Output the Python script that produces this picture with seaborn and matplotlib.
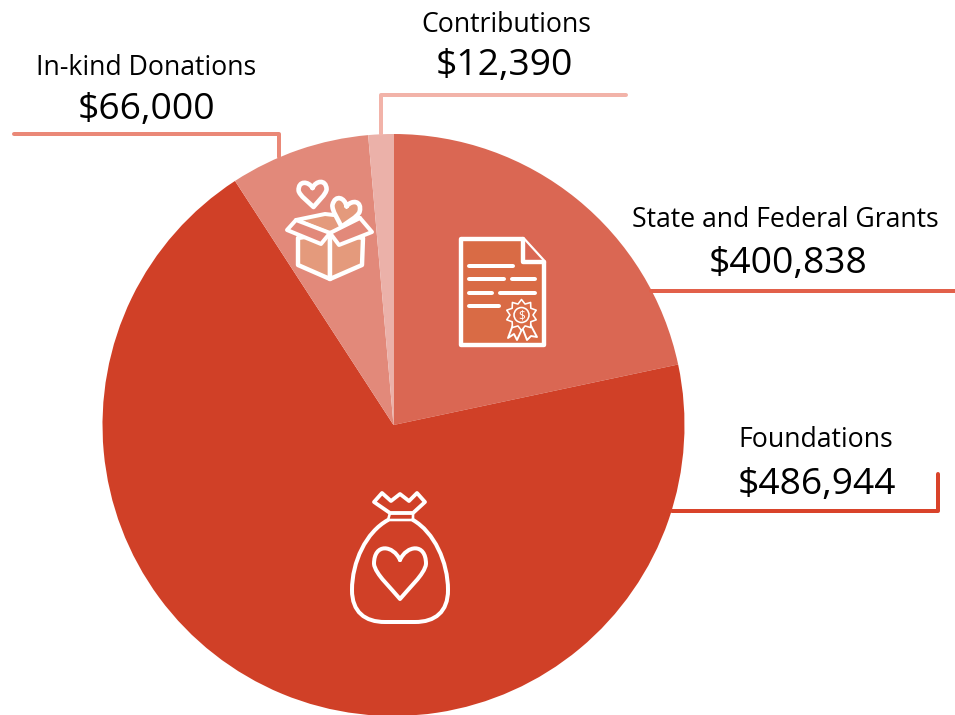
import matplotlib
matplotlib.use("Agg")
import numpy as np
import matplotlib.pyplot as plt
from matplotlib.path import Path
from matplotlib.patches import PathPatch, Circle, Polygon
import seaborn as sns

categories = ["State and Federal Grants", "Foundations", "In-kind Donations", "Contributions"]
amounts = [400838, 486944, 66000, 12390]
# Slice sizes as drawn in the picture (degrees of sweep); they are not proportional to the amounts.
slice_sweeps = [78, 249, 28, 5]
slice_colors = ["#DA6753", "#D04027", "#E2897A", "#EBB1A9"]

sns.set_theme(style="white")
plt.rcParams["font.family"] = ["Open Sans", "DejaVu Sans"]

fig = plt.figure(figsize=(9.55, 7.15), dpi=100)
ax = fig.add_axes([0, 0, 1, 1])
ax.pie(slice_sweeps, colors=sns.color_palette(slice_colors), center=(393.5, 425), radius=291,
       startangle=-90, counterclock=True, wedgeprops={"linewidth": 0})
ax.set_xlim(0, 955)
ax.set_ylim(715, 0)
ax.set_aspect("equal")
ax.axis("off")

PX = 0.72
TXT = "#000000"

def leader(pts, color):
    xs, ys = zip(*pts)
    ax.plot(xs, ys, color=color, lw=4 * PX, solid_capstyle="round", solid_joinstyle="round", zorder=3)

leader([(651, 290.5), (955, 290.5)], "#E2604A")
leader([(672, 511), (938, 511), (938, 474)], "#D9432A")
leader([(14, 133.5), (279, 133.5), (279, 157)], "#EA8877")
leader([(626, 94.5), (380.5, 94.5), (380.5, 134)], "#F2B3A9")

label_pos = [(785, 226.7, 788, 273), (816, 446.7, 816.5, 494), (146, 74.7, 146.5, 119), (506, 31.7, 504, 75)]
for name, val, (x1, y1, x2, y2) in zip(categories, amounts, label_pos):
    ax.text(x1, y1, name, ha="center", va="baseline", fontsize=19.2, color=TXT)
    ax.text(x2, y2, f"${val:,}", ha="center", va="baseline", fontsize=26.8, color=TXT)

def stroke(verts, codes=None, lw=3.2, fc="none", ec="white", z=5, close=False):
    if codes is None:
        codes = [Path.MOVETO] + [Path.LINETO] * (len(verts) - 1)
        if close:
            verts = list(verts) + [verts[0]]
            codes = codes + [Path.CLOSEPOLY]
    ax.add_patch(PathPatch(Path(verts, codes), fc=fc, ec=ec, lw=lw * PX, zorder=z,
                           capstyle="round", joinstyle="round"))

def heart(cx, top_dip, bottom, half_w, rot=0, lw=3.2, fc="none", z=5):
    """Outline of a heart, in pixel coordinates, rotated about its middle."""
    h = bottom - top_dip
    raw = [(0, 0),
           (0.25 * half_w, -0.38 * h), (half_w, -0.45 * h), (half_w, 0.1 * h),
           (0.96 * half_w, 0.36 * h), (0.3 * half_w, 0.75 * h), (0, h),
           (-0.3 * half_w, 0.75 * h), (-0.96 * half_w, 0.36 * h), (-half_w, 0.1 * h),
           (-half_w, -0.45 * h), (-0.25 * half_w, -0.38 * h), (0, 0)]
    a = np.deg2rad(rot)
    my = h / 2
    verts = []
    for x, y in raw:
        y0 = y - my
        verts.append((cx + x * np.cos(a) - y0 * np.sin(a), top_dip + my + x * np.sin(a) + y0 * np.cos(a)))
    codes = [Path.MOVETO] + [Path.CURVE4] * 12
    stroke(verts, codes, lw=lw, fc=fc, z=z)

# Money bag
stroke([(388, 520), (366, 532), (352, 562), (352, 590), (352, 612), (365, 622), (385, 622),
        (415, 622), (435, 622), (448, 612), (448, 590), (448, 562), (434, 532), (413, 520)],
       [Path.MOVETO] + [Path.CURVE4] * 6 + [Path.LINETO] + [Path.CURVE4] * 6, lw=4)
stroke([(374, 502), (382, 493), (391, 501), (400, 494), (409, 501), (417, 493), (425, 502),
        (413, 513), (390, 513)], close=True, lw=3.8)
stroke([(390, 513), (413, 513), (413, 520), (388, 520)], close=True, lw=2.6)
heart(400, 560, 599, 26, lw=4)

# Certificate
DOC = "#D96B45"
stroke([(461, 239), (523, 239), (544, 262), (544, 345), (461, 345)], close=True, fc=DOC, lw=4.4)
stroke([(523, 239), (523, 262), (544, 262)], lw=4.4, fc="#DA6753")
for x0, x1, y in [(469, 513, 266), (469, 504, 279), (512, 535, 279), (469, 492, 293),
                  (500, 535, 293), (469, 499, 306)]:
    ax.plot([x0, x1], [y, y], color="white", lw=4 * PX, solid_capstyle="round", zorder=6)
n = 10
theta = np.linspace(0, 2 * np.pi, 2 * n, endpoint=False)
rad = np.where(np.arange(2 * n) % 2 == 0, 15.5, 11.5)
ax.add_patch(Polygon(np.c_[521.5 + rad * np.sin(theta), 315 + rad * np.cos(theta)], closed=True,
                     fc=DOC, ec="white", lw=1.6 * PX, zorder=6, joinstyle="round"))
ax.add_patch(Circle((521.5, 315), 7.5, fc=DOC, ec="white", lw=1.6 * PX, zorder=7))
ax.text(521.5, 315.5, "$", ha="center", va="center", fontsize=8.5, color="white", zorder=8)
stroke([(514, 322), (508, 338), (514, 334), (517, 340), (523, 327)], lw=1.9, fc=DOC, z=5.5)
stroke([(529, 322), (537, 337), (531, 336), (527, 340), (522, 327)], lw=1.9, fc=DOC, z=5.5)

# Gift box
BOX = "#E49A7C"
stroke([(296, 220), (325, 214), (360, 218), (331, 234)], close=True, fc=BOX, lw=4)
heart(313, 188, 207, 14, rot=-3, lw=4.6, fc="#E2897A")
heart(344, 206, 227, 14, rot=14, lw=4.6, fc=BOX, z=5.1)
stroke([(298, 238), (298, 265), (330, 279), (330, 233)], close=True, fc=BOX, lw=4.4, z=5.2)
stroke([(363, 238), (362, 265), (330, 279), (330, 233)], close=True, fc=BOX, lw=4.4, z=5.2)
stroke([(296, 220), (287, 230), (321, 244), (330, 233)], close=True, fc="#E2897A", lw=4, z=5.3)
stroke([(360, 218), (372, 232), (339, 245), (330, 233)], close=True, fc="#E2897A", lw=4, z=5.3)

fig.savefig("out.png", dpi=100)
